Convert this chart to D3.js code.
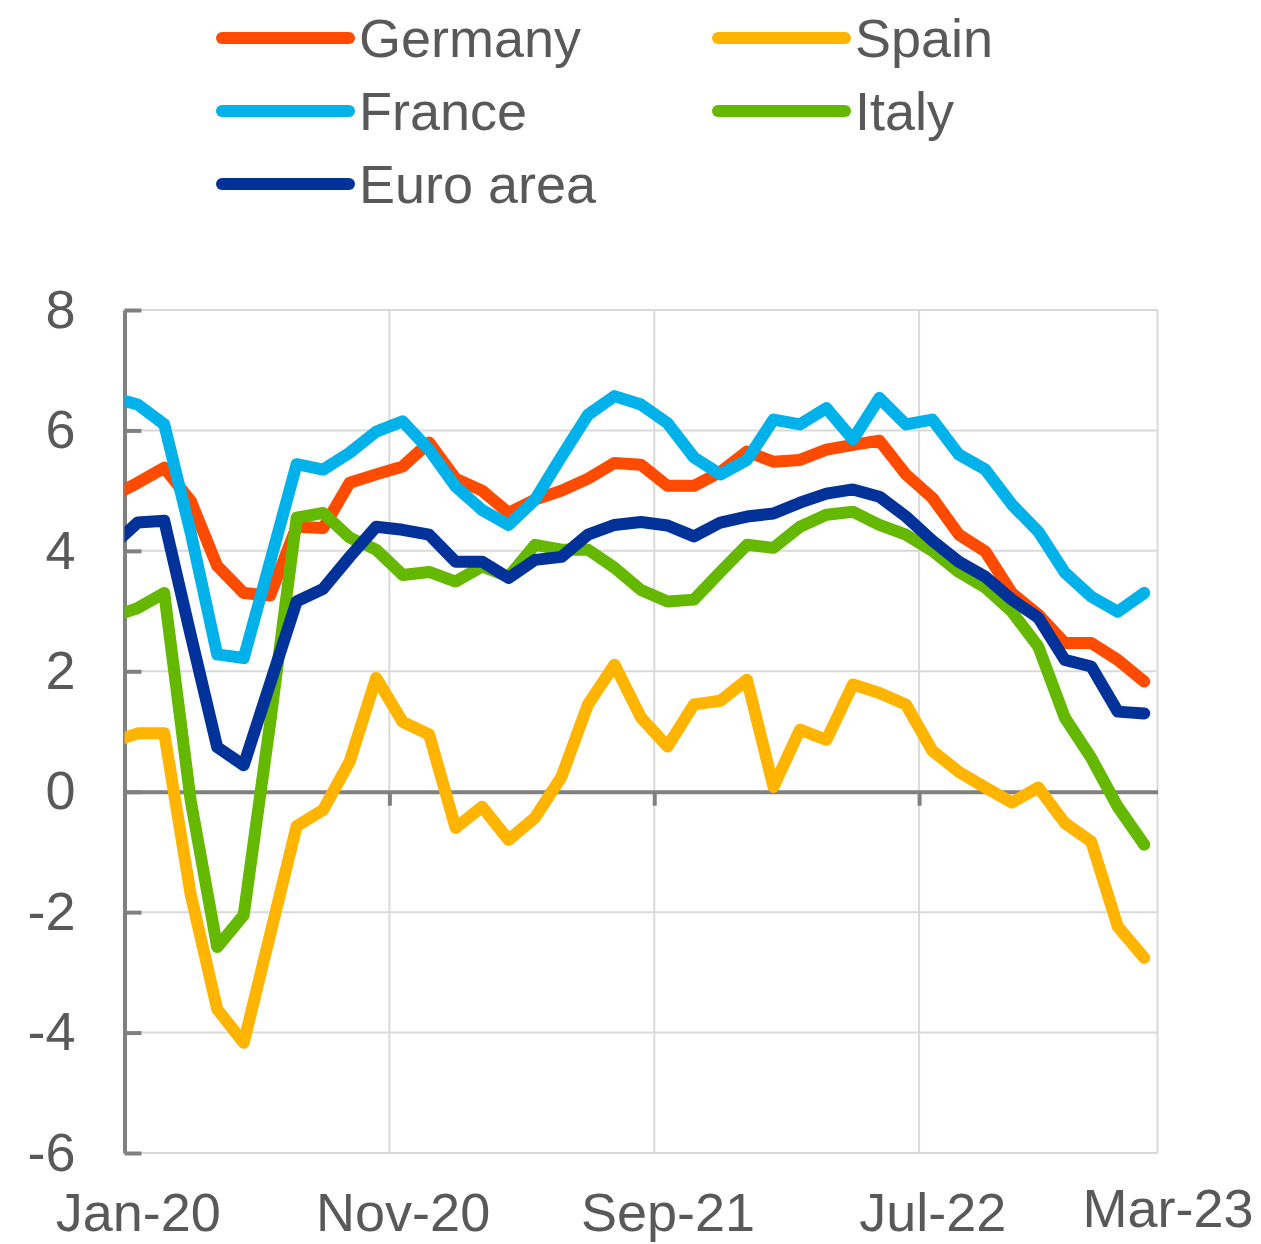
<!DOCTYPE html>
<html>
<head>
<meta charset="utf-8">
<script src="https://cdn.jsdelivr.net/npm/d3@7"></script>
<style>
  body { margin: 0; background: #fff; }
  text { font-family: 'Liberation Sans', Arial, sans-serif; fill: #595959; }
</style>
</head>
<body>
<svg id="chart" width="1261" height="1244"></svg>
<script>
//////////////////////////////////////////////////////////////////////////////////////////
// Data (monthly, Dec-19 .. Mar-23; Dec-19 only shows as the clipped start of each line)
//////////////////////////////////////////////////////////////////////////////////////////
var first_month = new Date(2019, 11, 1)

var germany = [4.9, 5.13, 5.38, 4.83, 3.75, 3.3, 3.26, 4.4, 4.38, 5.13, 5.27, 5.4, 5.8, 5.2, 5.0, 4.63,
  4.85, 5.0, 5.2, 5.46, 5.43, 5.08, 5.08, 5.31, 5.65, 5.48, 5.51, 5.68, 5.76, 5.83, 5.27, 4.88,
  4.27, 3.99, 3.3, 2.94, 2.47, 2.47, 2.19, 1.83]
var spain = [0.82, 0.97, 0.97, -1.71, -3.61, -4.17, -2.37, -0.57, -0.3, 0.5, 1.89, 1.16, 0.95, -0.6, -0.25, -0.8,
  -0.43, 0.25, 1.45, 2.11, 1.23, 0.75, 1.45, 1.51, 1.86, 0.08, 1.03, 0.86, 1.78, 1.64, 1.45, 0.68,
  0.33, 0.07, -0.18, 0.07, -0.52, -0.83, -2.24, -2.76]
var france = [6.55, 6.43, 6.1, 4.3, 2.28, 2.22, 3.82, 5.44, 5.35, 5.63, 5.98, 6.15, 5.68, 5.07, 4.68, 4.43,
  4.85, 5.57, 6.26, 6.57, 6.43, 6.12, 5.55, 5.27, 5.51, 6.18, 6.1, 6.37, 5.85, 6.54, 6.1, 6.18,
  5.6, 5.35, 4.77, 4.32, 3.64, 3.24, 2.99, 3.3]
var italy = [2.9, 3.05, 3.3, -0.15, -2.58, -2.05, 1.15, 4.55, 4.63, 4.22, 4.02, 3.6, 3.65, 3.49, 3.74, 3.57,
  4.1, 4.02, 4.02, 3.72, 3.35, 3.16, 3.19, 3.65, 4.1, 4.05, 4.4, 4.6, 4.65, 4.43, 4.27, 4.0,
  3.65, 3.39, 2.99, 2.41, 1.23, 0.56, -0.25, -0.88]
var euro_area = [4.07, 4.47, 4.5, 2.6, 0.74, 0.44, 1.8, 3.16, 3.37, 3.9, 4.4, 4.35, 4.27, 3.82, 3.82, 3.55,
  3.85, 3.9, 4.27, 4.43, 4.48, 4.42, 4.24, 4.47, 4.57, 4.62, 4.8, 4.95, 5.02, 4.9, 4.57, 4.17,
  3.82, 3.57, 3.19, 2.89, 2.19, 2.08, 1.33, 1.3]

var series_names = ['Germany', 'Spain', 'France', 'Italy', 'Euro area']
var series_colors = ['#FF4B00', '#FFB400', '#00B1EA', '#65B800', '#003299']
var series_values = [germany, spain, france, italy, euro_area]

var y_ticks = [-6, -4, -2, 0, 2, 4, 6, 8]
var x_labels = ['Jan-20', 'Nov-20', 'Sep-21', 'Jul-22', 'Mar-23']
var x_label_months = [0, 10, 20, 30, 38]   // months after Jan-20
var x_grid_months = [10, 20, 30, 39]

//////////////////////////////////////////////////////////////////////////////////////////
// Scales
//////////////////////////////////////////////////////////////////////////////////////////
var plot = { left: 124.5, right: 1157.5, top: 310, bottom: 1153 }

// x in months since 1 Jan 2020, points sit mid-month
var x = d3.scaleLinear().domain([0, 39]).range([plot.left, plot.right])
var y = d3.scaleLinear().domain([-6, 8]).range([plot.bottom, plot.top])

function month_x(i) {
  var d = d3.timeMonth.offset(first_month, i)
  var m = (d.getFullYear() - 2020) * 12 + d.getMonth()
  return x(m + 0.5)
}

var svg = d3.select('#chart')

//////////////////////////////////////////////////////////////////////////////////////////
// Grid
//////////////////////////////////////////////////////////////////////////////////////////
svg.append('g')
  .selectAll('line')
  .data(y_ticks)
  .enter()
  .append('line')
  .attr('x1', plot.left).attr('x2', plot.right)
  .attr('y1', function(d) { return y(d) })
  .attr('y2', function(d) { return y(d) })
  .attr('stroke', '#D9D9D9')
  .attr('stroke-width', 2)

svg.append('g')
  .selectAll('line')
  .data(x_grid_months)
  .enter()
  .append('line')
  .attr('x1', function(d) { return x(d) })
  .attr('x2', function(d) { return x(d) })
  .attr('y1', plot.top).attr('y2', plot.bottom)
  .attr('stroke', '#D9D9D9')
  .attr('stroke-width', 2)

//////////////////////////////////////////////////////////////////////////////////////////
// Axes
//////////////////////////////////////////////////////////////////////////////////////////
var y_axis = svg.append('g')
  .attr('transform', 'translate(' + plot.left + ',0)')
  .call(d3.axisLeft(y)
    .tickValues(y_ticks)
    .tickSizeInner(-17)
    .tickSizeOuter(0)
    .tickPadding(49)
    .tickFormat(function(d) { return String(d) }))

y_axis.select('.domain').attr('stroke', '#808080').attr('stroke-width', 4)
y_axis.selectAll('.tick line').attr('stroke', '#808080').attr('stroke-width', 4)
y_axis.selectAll('.tick text')
  .attr('font-size', 54)
  .style('font-family', "'Liberation Sans', Arial, sans-serif")
  .attr('fill', '#595959')

var zero_axis = svg.append('g')
  .attr('transform', 'translate(0,' + y(0) + ')')
  .call(d3.axisBottom(x).tickValues([10, 20, 30]).tickSizeInner(14).tickSizeOuter(0).tickFormat(''))

zero_axis.select('.domain').attr('stroke', '#808080').attr('stroke-width', 4)
zero_axis.selectAll('.tick line').attr('stroke', '#808080').attr('stroke-width', 4)

var x_axis = svg.append('g')
  .attr('transform', 'translate(0,' + plot.bottom + ')')
  .call(d3.axisBottom(x)
    .tickValues(x_label_months.map(function(m) { return m + 0.5 }))
    .tickSize(0)
    .tickPadding(40)
    .tickFormat(function(d, i) { return x_labels[i] }))

x_axis.select('.domain').remove()
x_axis.selectAll('.tick text')
  .attr('font-size', 54)
  .style('font-family', "'Liberation Sans', Arial, sans-serif")
  .attr('fill', '#595959')

// last label is pushed in so it fits the frame
x_axis.selectAll('.tick')
  .filter(function(d, i) { return i == x_labels.length - 1 })
  .select('text')
  .attr('text-anchor', 'end')
  .attr('x', 1253 - x(38.5))
  .attr('y', 36)

//////////////////////////////////////////////////////////////////////////////////////////
// Lines
//////////////////////////////////////////////////////////////////////////////////////////
svg.append('clipPath')
  .attr('id', 'clip-plot')
  .append('rect')
  .attr('x', plot.left)
  .attr('y', 0)
  .attr('width', plot.right - plot.left)
  .attr('height', 1244)

var line = d3.line()
  .x(function(d, i) { return month_x(i) })
  .y(function(d) { return y(d) })

svg.append('g')
  .attr('clip-path', 'url(#clip-plot)')
  .selectAll('path')
  .data(series_values)
  .enter()
  .append('path')
  .attr('d', line)
  .attr('fill', 'none')
  .attr('stroke', function(d, i) { return series_colors[i] })
  .attr('stroke-width', 12)
  .attr('stroke-linejoin', 'round')
  .attr('stroke-linecap', 'round')

//////////////////////////////////////////////////////////////////////////////////////////
// Legend
//////////////////////////////////////////////////////////////////////////////////////////
var legend = svg.append('g')
  .selectAll('g')
  .data(series_names)
  .enter()
  .append('g')
  .attr('transform', function(d, i) {
    var lx = i % 2 == 0 ? 222 : 718
    var ly = 38 + Math.floor(i / 2) * 73
    return 'translate(' + lx + ',' + ly + ')'
  })

legend.append('line')
  .attr('x1', 0).attr('x2', 127)
  .attr('y1', 0).attr('y2', 0)
  .attr('stroke', function(d, i) { return series_colors[i] })
  .attr('stroke-width', 12)
  .attr('stroke-linecap', 'round')

legend.append('text')
  .attr('x', 137)
  .attr('y', 19)
  .attr('font-size', 54)
  .text(function(d) { return d })
</script>
</body>
</html>
